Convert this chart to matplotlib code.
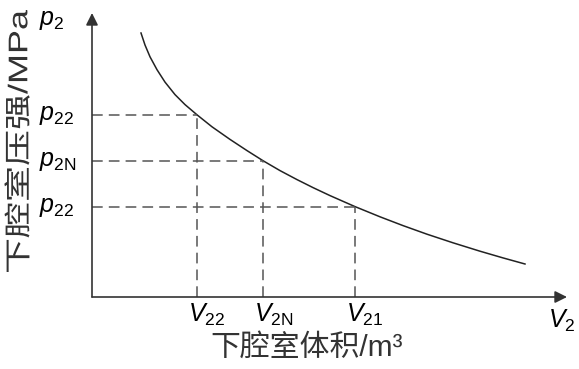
import matplotlib
matplotlib.use("Agg")
import matplotlib.pyplot as plt
from matplotlib.textpath import TextPath
from matplotlib.font_manager import FontProperties
from matplotlib.patches import PathPatch
from matplotlib.transforms import Affine2D

plt.rcParams['mathtext.fontset'] = 'custom'
plt.rcParams['mathtext.rm'] = 'Liberation Sans'
plt.rcParams['mathtext.it'] = 'Liberation Sans:italic'

# curve (volume, pressure), arbitrary units
curve_v = [49, 53, 58, 65, 73, 83, 93, 105, 120, 138, 155, 171, 188, 205,
           221, 238, 263, 288, 311, 335, 361, 388, 411, 433]
curve_p = [264, 252, 240.2, 227.3, 214.9, 202.4, 192.4, 182.2, 170.2, 157.6,
           146.4, 136.3, 126.4, 117.4, 109.4, 101.4, 90.4, 80.2, 71.4, 62.8,
           54.2, 45.8, 39.1, 33]

# marked points on the curve
point_v = [105, 171, 263]
point_p = [182.2, 136.3, 90.4]
v_labels = [r'$V_{\mathrm{22}}$', r'$V_{\mathrm{2N}}$', r'$V_{\mathrm{21}}$']
p_labels = [r'$p_{\mathrm{22}}$', r'$p_{\mathrm{2N}}$', r'$p_{\mathrm{22}}$']

fig = plt.figure(figsize=(5.79, 3.69), dpi=100)
ax = fig.add_axes([0, 0, 1, 1])
ax.set_xlim(-92, 487)
ax.set_ylim(-72, 297)
ax.axis('off')

axis_col = '#333333'
ax.annotate('', xy=(475, 0), xytext=(0, 0),
            arrowprops=dict(arrowstyle='-|>', color=axis_col, lw=1.2,
                            mutation_scale=18, shrinkA=0, shrinkB=0))
ax.annotate('', xy=(0, 284), xytext=(0, 0),
            arrowprops=dict(arrowstyle='-|>', color=axis_col, lw=1.2,
                            mutation_scale=18, shrinkA=0, shrinkB=0))

ax.plot(curve_v, curve_p, color='#222222', lw=1.1)

for v, p, vl, pl in zip(point_v, point_p, v_labels, p_labels):
    ax.plot([0, v], [p, p], color='#555555', lw=1.1, dashes=(7, 4))
    ax.plot([v, v], [0, p], color='#555555', lw=1.1, dashes=(7, 4))
    ax.text(v - 9, -5, vl, fontsize=18, ha='left', va='top')
    ax.text(-53, p, pl, fontsize=18, ha='left', va='center')

ax.text(-53, 277, r'$p_{\mathrm{2}}$', fontsize=18, ha='left', va='center')
ax.text(456, -11, r'$V_{\mathrm{2}}$', fontsize=18, ha='left', va='top')

cjk = ['Liberation Sans', 'Noto Sans CJK SC']
ax.text(215, -51, '下腔室体积/m³', fontsize=21.5, family=cjk, ha='center',
        va='center', color='#333333')

# y label is stretched along its length in the reference
tp = TextPath((0, 0), '下腔室压强/MPa', size=27, prop=FontProperties(family=cjk))
ext = tp.get_extents()
sx = 262 / ext.width
tr = (Affine2D().translate(-ext.x0 - ext.width / 2, -ext.y0 - ext.height / 2)
      .scale(sx, 1.0).rotate_deg(90).translate(-75, 156))
ax.add_patch(PathPatch(tr.transform_path(tp), facecolor='#333333',
                       edgecolor='none'))

fig.savefig('out.png', dpi=100)
